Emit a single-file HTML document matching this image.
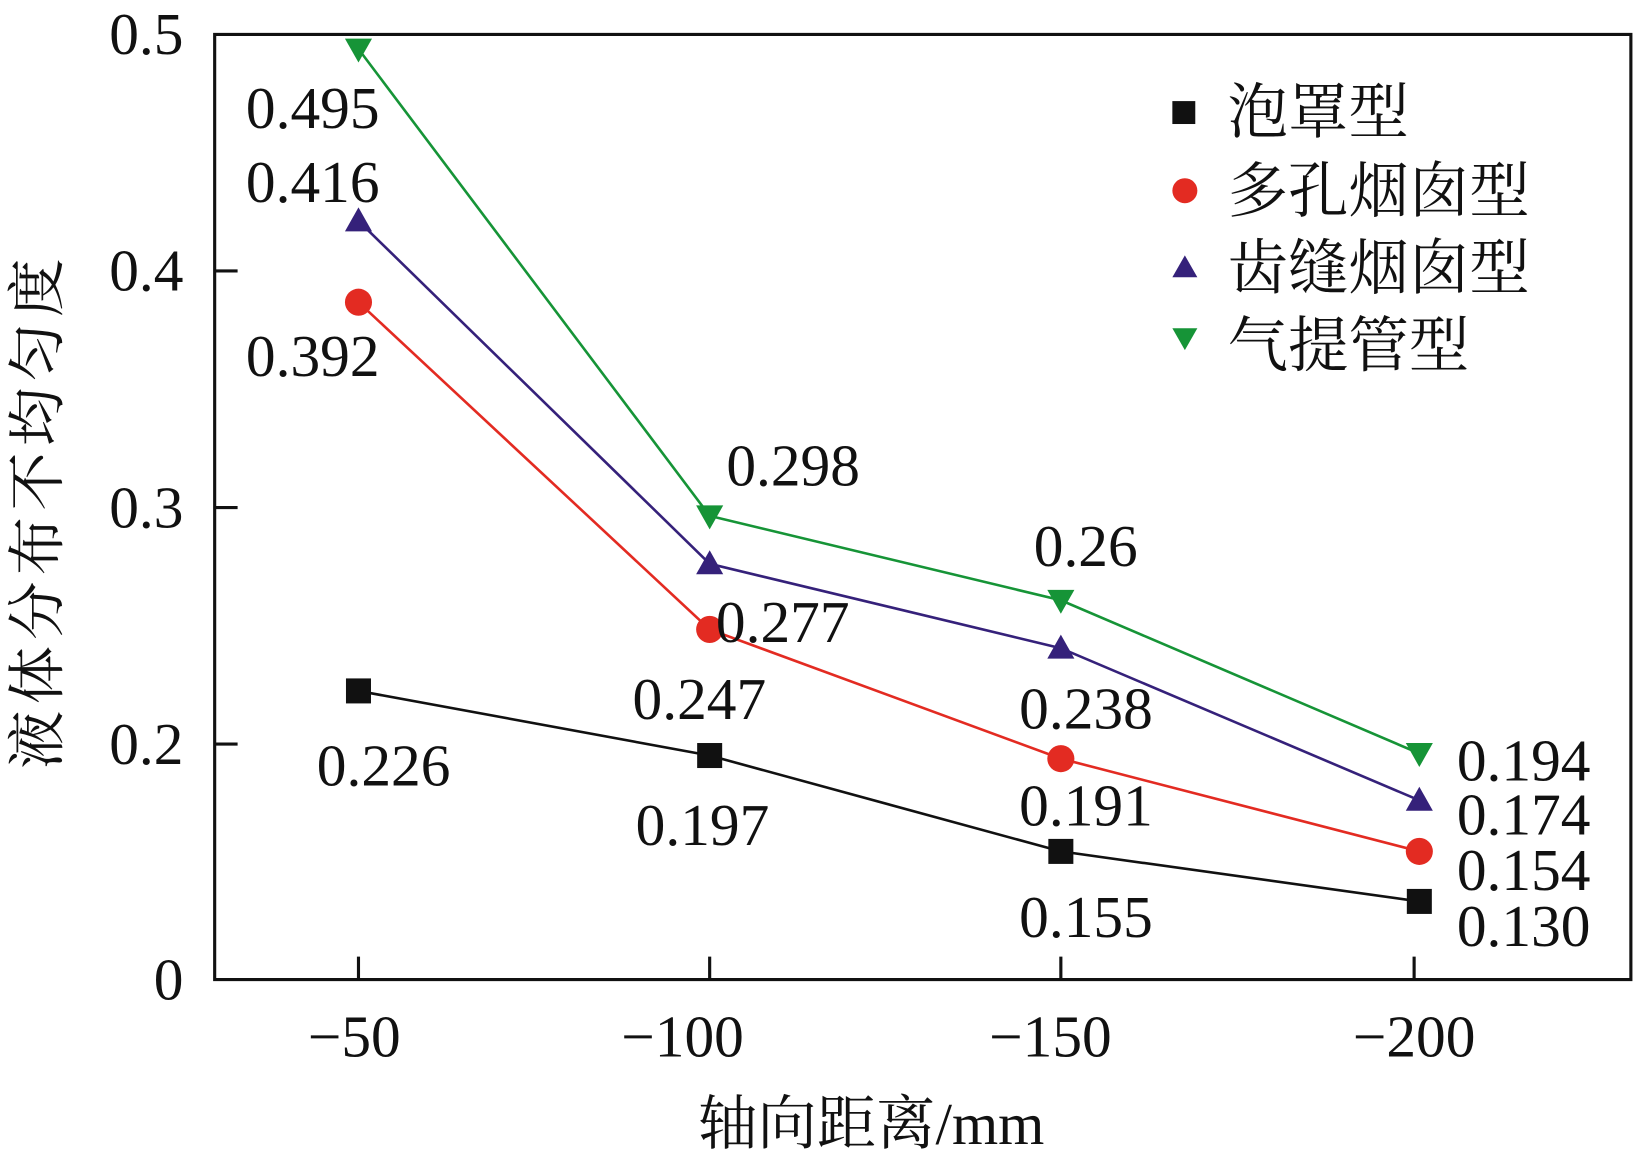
<!DOCTYPE html>
<html><head><meta charset="utf-8"><style>html,body{margin:0;padding:0;background:#fff}svg{display:block}</style></head>
<body>
<svg width="1634" height="1163" viewBox="0 0 1568 1116" xmlns="http://www.w3.org/2000/svg" font-family="'Liberation Serif','Noto Serif CJK SC',serif">
<rect x="0" y="0" width="1568" height="1116" fill="#fff"/>
<g stroke="#111" stroke-width="3" fill="none">
<path d="M206 33 H1565 V940 H206 Z"/>
<path d="M206 260 h22 M206 487 h22 M206 714 h22"/>
<path d="M344 940 v-22 M681 940 v-22 M1018 940 v-22 M1357 940 v-22"/>
</g>
<g font-size="57" fill="#111" text-anchor="end">
<text x="176" y="52">0.5</text><text x="176" y="279">0.4</text><text x="176" y="506">0.3</text><text x="176" y="733">0.2</text><text x="176" y="959">0</text>
</g>
<g font-size="57" fill="#111" text-anchor="middle">
<text x="340" y="1014">−50</text><text x="655" y="1014">−100</text><text x="1008" y="1014">−150</text><text x="1357" y="1014">−200</text>
<text x="836" y="1098">轴向距离/mm</text>
</g>
<text transform="translate(55,490) rotate(-90)" font-size="56" fill="#111" text-anchor="middle" letter-spacing="6">液体分布不均匀度</text>
<g stroke-width="2.5" fill="none">
<polyline stroke="#111" points="344,663 681,725 1018,817 1362,865"/>
<polyline stroke="#e32b22" points="344,290 681,604 1018,728 1362,817"/>
<polyline stroke="#35217a" points="344,212 681,541 1018,622 1362,768"/>
<polyline stroke="#169437" points="344,47 681,495 1018,576 1362,723"/>
</g>
<g fill="#111">
<rect x="332" y="651" width="24" height="24"/><rect x="669" y="713" width="24" height="24"/><rect x="1006" y="805" width="24" height="24"/><rect x="1350" y="853" width="24" height="24"/>
</g>
<g fill="#e32b22">
<circle cx="344" cy="290" r="13"/><circle cx="681" cy="604" r="13"/><circle cx="1018" cy="728" r="13"/><circle cx="1362" cy="817" r="13"/>
</g>
<g fill="#35217a">
<path d="M344 199 l13 23 h-26z"/><path d="M681 528 l13 23 h-26z"/><path d="M1018 609 l13 23 h-26z"/><path d="M1362 755 l13 23 h-26z"/>
</g>
<g fill="#169437">
<path d="M344 60 l13 -23 h-26z"/><path d="M681 508 l13 -23 h-26z"/><path d="M1018 589 l13 -23 h-26z"/><path d="M1362 736 l13 -23 h-26z"/>
</g>
<g font-size="57" fill="#111">
<text x="236" y="123">0.495</text><text x="236" y="194">0.416</text><text x="236" y="361">0.392</text><text x="304" y="754">0.226</text>
<text x="697" y="466">0.298</text><text x="687" y="616">0.277</text><text x="607" y="690">0.247</text><text x="610" y="811">0.197</text>
<text x="992" y="543">0.26</text><text x="978" y="699">0.238</text><text x="978" y="792">0.191</text><text x="978" y="899">0.155</text>
<text x="1398" y="749">0.194</text><text x="1398" y="801">0.174</text><text x="1398" y="854">0.154</text><text x="1398" y="908">0.130</text>
</g>
<rect x="1125" y="97" width="22" height="22" fill="#111"/>
<circle cx="1137" cy="183" r="12" fill="#e32b22"/>
<path d="M1137 245 l12 21 h-24z" fill="#35217a"/>
<path d="M1137 336 l12 -21 h-24z" fill="#169437"/>
<g font-size="58" fill="#111">
<text x="1178" y="127">泡罩型</text><text x="1178" y="203">多孔烟囱型</text><text x="1178" y="277">齿缝烟囱型</text><text x="1178" y="351">气提管型</text>
</g>
</svg>
</body></html>
